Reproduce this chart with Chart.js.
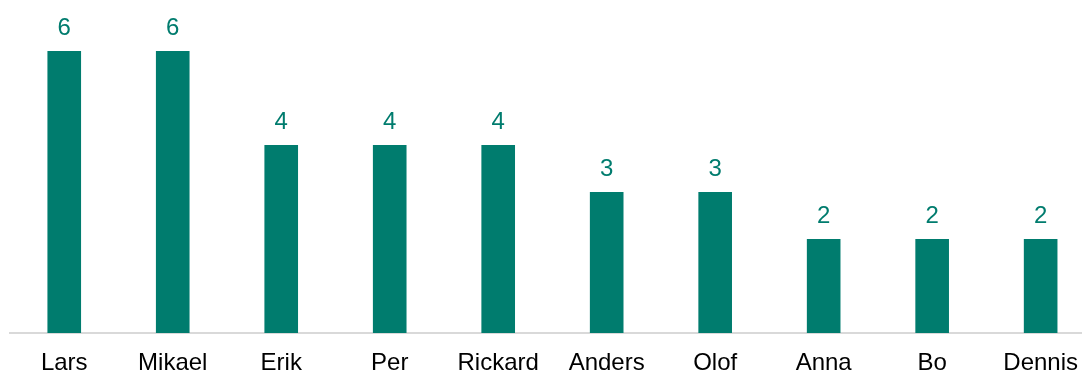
<!DOCTYPE html>
<html>
<head>
<meta charset="utf-8">
<script src="https://cdn.jsdelivr.net/npm/chart.js@4"></script>
<style>
  html, body { margin: 0; padding: 0; background: #fff; overflow: hidden; }
  #wrap { width: 1096px; height: 371px; }
</style>
</head>
<body>
<div id="wrap"><canvas id="namesChart"></canvas></div>
<script>
const names = ['Lars', 'Mikael', 'Erik', 'Per', 'Rickard', 'Anders', 'Olof', 'Anna', 'Bo', 'Dennis'];
const counts = [6, 6, 4, 4, 4, 3, 3, 2, 2, 2];

const barColor = '#007c6e';

// draws the number above each bar
const valueLabels = {
    id: 'valueLabels',
    afterDatasetsDraw(chart) {
        const c = chart.ctx;
        const meta = chart.getDatasetMeta(0);
        c.save();
        c.fillStyle = barColor;
        c.font = '24px "Liberation Sans", Arial, sans-serif';
        c.textAlign = 'center';
        c.textBaseline = 'alphabetic';
        meta.data.forEach((bar, i) => {
            c.fillText(counts[i], bar.x, bar.y - 16);
        });
        c.restore();
    }
};

const ctx = document.getElementById('namesChart');

new Chart(ctx, {
    type: 'bar',
    data: {
        labels: names,
        datasets: [{
            data: counts,
            backgroundColor: barColor,
            borderWidth: 0,
            categoryPercentage: 1,
            barPercentage: 0.31
        }]
    },
    options: {
        responsive: true,
        maintainAspectRatio: false,
        animation: false,
        layout: {
            padding: { left: 10, top: 4, right: 0, bottom: -22 }
        },
        plugins: {
            legend: { display: false },
            tooltip: { enabled: false }
        },
        scales: {
            x: {
                grid: { display: false, drawTicks: false },
                border: { color: '#d9d9d9', width: 2 },
                ticks: {
                    color: '#000',
                    padding: 18,
                    font: { family: '"Liberation Sans", Arial, sans-serif', size: 24, lineHeight: 1 }
                }
            },
            y: {
                display: false,
                min: 0,
                max: 7
            }
        }
    },
    plugins: [valueLabels]
});
</script>
</body>
</html>
